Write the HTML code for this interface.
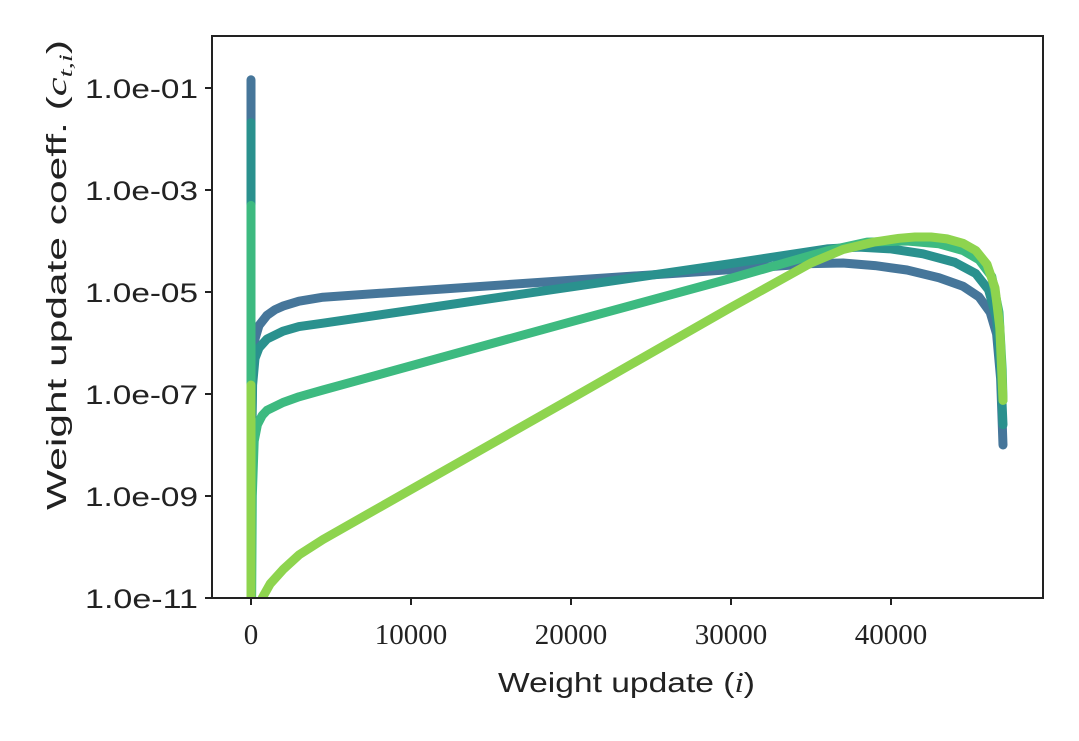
<!DOCTYPE html>
<html><head><meta charset="utf-8"><style>
body{margin:0;background:#fff;}
svg text{fill:#222;}
.tk{font-family:"Liberation Sans",sans-serif;font-size:27px;}
.tx{font-family:"Liberation Serif",serif;font-size:29px;}
</style></head><body>
<svg id="c" width="1079" height="736" xmlns="http://www.w3.org/2000/svg">
<defs><clipPath id="cp"><rect x="212" y="36" width="831" height="562"/></clipPath></defs>
<g id="lines" clip-path="url(#cp)"></g>
<rect x="212" y="36" width="831" height="562" fill="none" stroke="#222" stroke-width="2"/>
<g id="axes"></g>
<text x="498" y="692" textLength="257" lengthAdjust="spacingAndGlyphs" class="tk" style="font-size:28px">Weight update (<tspan font-family="Liberation Serif" font-style="italic">i</tspan>)</text>
<text transform="translate(66,510) rotate(-90)" textLength="470" lengthAdjust="spacingAndGlyphs" class="tk" style="font-size:28px">Weight update coeff. (<tspan font-family="Liberation Serif" font-style="italic">c</tspan><tspan font-family="Liberation Serif" font-style="italic" font-size="19" dy="6">t,i</tspan><tspan dy="-6">)</tspan></text>
</svg>
<script>
const xTicks=[0,10000,20000,30000,40000];
const yTickExps=[-1,-3,-5,-7,-9,-11];
const yTickLabels=["1.0e-01","1.0e-03","1.0e-05","1.0e-07","1.0e-09","1.0e-11"];
const seriesColors=["#46769a","#2a918e","#3dba80","#8ed44e"];
const s1X=[0,0,30,100,250,500,1000,1500,2000,3000,4500,20000,30000,35000,37000,39000,41000,43000,44500,45500,46200,46600,46850,47000];
const s1Y=[1.45e-1,1e-13,1e-8,3e-7,1.2e-6,2.2e-6,3.5e-6,4.5e-6,5.3e-6,6.6e-6,7.9e-6,1.7e-5,2.75e-5,3.6e-5,3.7e-5,3.3e-5,2.7e-5,1.9e-5,1.3e-5,8e-6,4e-6,1.5e-6,2e-7,1e-8];
const s2X=[0,0,30,100,250,500,1000,2000,3000,4500,20000,30000,36000,38000,40000,42000,44000,45300,46100,46600,46850,47000];
const s2Y=[2.1e-2,1e-13,5e-9,1.5e-7,5e-7,8e-7,1.2e-6,1.7e-6,2.1e-6,2.45e-6,1.26e-5,3.6e-5,7e-5,7.6e-5,7e-5,5.6e-5,3.8e-5,2.3e-5,1.1e-5,3e-6,3e-7,2.5e-8];
const s3X=[0,0,80,200,400,700,1000,2000,3000,4500,20000,30000,36000,38500,41000,43000,44500,45500,46300,46750,46950,47000];
const s3Y=[5e-4,1e-13,1e-9,1.2e-8,2.5e-8,3.8e-8,4.8e-8,6.8e-8,8.8e-8,1.2e-7,2.6e-6,1.85e-5,6.4e-5,9.5e-5,1e-4,8.8e-5,6.5e-5,4.3e-5,2e-5,4e-6,3e-7,7.5e-8];
const s4X=[0,0,700,1200,2000,3000,4500,20000,30000,35000,37000,39000,40500,41500,42500,43500,44500,45300,46000,46500,46800,47000];
const s4Y=[1.5e-7,1e-13,1e-11,1.9e-11,3.6e-11,7e-11,1.4e-10,8.1e-8,5e-6,3.7e-5,6.8e-5,9.6e-5,1.13e-4,1.2e-4,1.2e-4,1.1e-4,9e-5,6.5e-5,3.5e-5,1.2e-5,2e-6,7.5e-8];
const X=i=>251+i*0.016;
const Y=v=>598-(Math.log10(v)+11)*51;
const NS="http://www.w3.org/2000/svg";
const g=document.getElementById('lines'), ax=document.getElementById('axes');
const all=[[s1X,s1Y],[s2X,s2Y],[s3X,s3Y],[s4X,s4Y]];
all.forEach(([xs,ys],k)=>{
  const p=document.createElementNS(NS,'polyline');
  p.setAttribute('points',xs.map((x,j)=>X(x).toFixed(1)+','+Y(ys[j]).toFixed(1)).join(' '));
  p.setAttribute('fill','none');
  p.setAttribute('stroke',seriesColors[k]);
  p.setAttribute('stroke-width','9');
  p.setAttribute('stroke-linecap','round');
  p.setAttribute('stroke-linejoin','round');
  
  
  g.appendChild(p);
});
xTicks.forEach(t=>{
  const l=document.createElementNS(NS,'line');
  l.setAttribute('x1',X(t));l.setAttribute('x2',X(t));l.setAttribute('y1',598);l.setAttribute('y2',605);
  l.setAttribute('stroke','#222');l.setAttribute('stroke-width','2');
  
  
  ax.appendChild(l);
  const tx=document.createElementNS(NS,'text');
  tx.setAttribute('x',X(t));tx.setAttribute('y',644);tx.setAttribute('text-anchor','middle');tx.setAttribute('class','tx');
  tx.textContent=t;
  
  
  ax.appendChild(tx);
});
yTickExps.forEach((e,k)=>{
  const y=Y(Math.pow(10,e));
  const l=document.createElementNS(NS,'line');
  l.setAttribute('x1',205);l.setAttribute('x2',212);l.setAttribute('y1',y);l.setAttribute('y2',y);
  l.setAttribute('stroke','#222');l.setAttribute('stroke-width','2');
  
  
  ax.appendChild(l);
  const tx=document.createElementNS(NS,'text');
  tx.setAttribute('x',85);tx.setAttribute('y',y+10);tx.setAttribute('textLength',113);tx.setAttribute('lengthAdjust','spacingAndGlyphs');tx.setAttribute('class','tk');
  tx.textContent=yTickLabels[k];
  
  
  ax.appendChild(tx);
});
</script>
</body></html>
